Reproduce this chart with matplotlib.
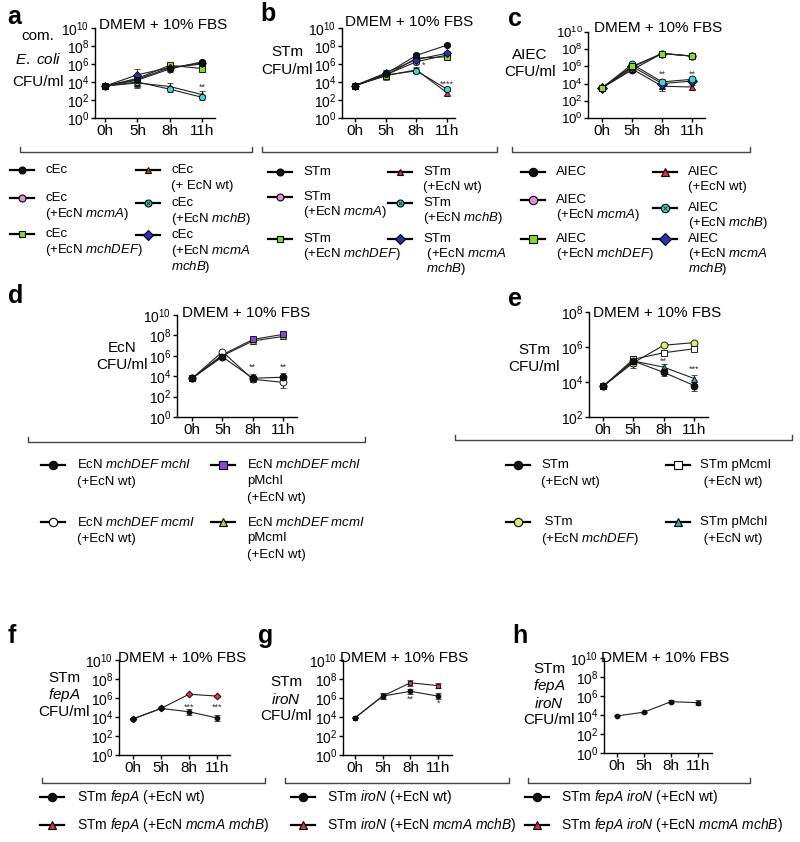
import numpy as np
import matplotlib
matplotlib.use('Agg')
import matplotlib.pyplot as plt
from matplotlib.lines import Line2D
from matplotlib.ticker import NullLocator

plt.rcParams['font.family'] = 'Liberation Sans'
plt.rcParams['mathtext.fontset'] = 'custom'
plt.rcParams['mathtext.rm'] = 'Liberation Sans'
plt.rcParams['mathtext.it'] = 'Liberation Sans:italic'
plt.rcParams['mathtext.bf'] = 'Liberation Sans:bold'
plt.rcParams['mathtext.default'] = 'regular'

W, H = 800, 842
timepoints = ['0h', '5h', '8h', '11h']

# log10 CFU/ml (0h, 5h, 8h, 11h)
a_cEc = [3.55, 4.2, 5.45, 6.25]
a_mcmA = [3.55, 4.3, 5.6, 6.0]
a_mchDEF = [3.55, 4.4, 5.85, 5.5]
a_wt = [3.55, 3.9, 3.5, 2.6]
a_mchB = [3.55, 4.0, 3.2, 2.3]
a_mcmA_mchB = [3.55, 4.8, 5.6, 6.1]
a_err = [[0.05, 0.5, 0.35, 0.15], [0.05, 0.4, 0.3, 0.3], [0.05, 0.3, 0.3, 0.4],
         [0.05, 0.6, 0.4, 0.35], [0.05, 0.5, 0.3, 0.3], [0.05, 0.6, 0.4, 0.2]]

b_STm = [3.6, 4.9, 6.95, 8.1]
b_mcmA = [3.6, 4.8, 6.25, 7.0]
b_mchDEF = [3.6, 4.7, 6.65, 6.8]
b_wt = [3.6, 4.7, 5.35, 2.8]
b_mchB = [3.6, 4.75, 5.25, 3.2]
b_mcmA_mchB = [3.6, 5.0, 6.5, 7.2]
b_err = [[0.05, 0.4, 0.3, 0.1], [0.05, 0.4, 0.3, 0.3], [0.05, 0.3, 0.3, 0.3],
         [0.05, 0.5, 0.3, 0.2], [0.05, 0.3, 0.3, 0.2], [0.05, 0.3, 0.3, 0.3]]

c_AIEC = [3.5, 5.6, 7.5, 7.2]
c_mcmA = [3.5, 5.9, 7.5, 7.2]
c_mchDEF = [3.5, 6.0, 7.5, 7.2]
c_wt = [3.5, 5.7, 3.7, 3.6]
c_mchB = [3.5, 6.25, 4.2, 4.5]
c_mcmA_mchB = [3.5, 6.0, 4.0, 4.3]
c_err = [[0.05, 0.2, 0.1, 0.1], [0.05, 0.2, 0.1, 0.1], [0.05, 0.2, 0.1, 0.15],
         [0.05, 0.2, 0.6, 0.2], [0.05, 0.2, 0.3, 0.2], [0.05, 0.2, 0.3, 0.2]]

d_mchI = [3.8, 5.9, 3.8, 3.9]
d_mcmI = [3.8, 6.4, 3.7, 3.4]
d_mchI_p = [3.8, 6.1, 7.6, 8.1]
d_mcmI_p = [3.8, 6.0, 7.45, 7.9]
d_err = [[0.05, 0.15, 0.4, 0.4], [0.05, 0.15, 0.3, 0.6], [0.05, 0.1, 0.1, 0.1], [0.05, 0.1, 0.1, 0.1]]

e_wt = [3.75, 5.2, 4.55, 3.8]
e_mchDEF = [3.75, 5.1, 6.1, 6.25]
e_pMcmI = [3.75, 5.3, 5.67, 5.9]
e_pMchI = [3.75, 5.2, 4.85, 4.2]
e_err = [[0.05, 0.3, 0.2, 0.3], [0.05, 0.3, 0.05, 0.05], [0.05, 0.1, 0.05, 0.05], [0.05, 0.1, 0.2, 0.2]]

f_wt = [3.8, 4.9, 4.55, 3.9]
f_mcmA_mchB = [3.8, 4.9, 6.4, 6.2]
f_err = [[0.05, 0.1, 0.3, 0.35], [0.05, 0.1, 0.05, 0.05]]

g_wt = [3.9, 6.2, 6.7, 6.2]
g_mcmA_mchB = [3.9, 6.2, 7.6, 7.3]
g_err = [[0.05, 0.3, 0.25, 0.35], [0.05, 0.3, 0.3, 0.25]]

h_wt = [3.9, 4.3, 5.4, 5.3]
h_err = [[0.05, 0.05, 0.15, 0.25]]

# significance marks: (timepoint index, log10 height, label)
a_stars = [(2, 4.9, '*'), (3, 3.4, '**')]
b_stars = [(2.25, 5.9, '*'), (3, 3.8, '****')]
c_stars = [(2, 5.1, '**'), (3, 5.1, '**')]
d_stars = [(2, 4.9, '**'), (3, 4.9, '**')]
e_stars = [(2, 5.2, '**'), (3, 4.75, '***')]
f_stars = [(2, 5.0, '***'), (3, 5.0, '***')]
g_stars = [(2, 5.9, '**'), (3, 5.45, '*')]

BLACK, PINK, LIME, RED = '#111111', '#e48ce0', '#84dc28', '#e0303c'
CYAN, BLUE, PURPLE, OLIVE = '#3cd6da', '#2434b0', '#8a46e0', '#a8d62c'
YELLOW, TEAL, WHITE = '#d8ef74', '#2aa6c8', '#ffffff'

fig = plt.figure(figsize=(W / 100, H / 100), dpi=100)


def px_axes(left, top, right, bottom):
    return fig.add_axes([left / W, 1 - bottom / H, (right - left) / W, (bottom - top) / H])


def ftext(x, y, s, **kw):
    fig.text(x / W, 1 - y / H, s, **kw)


def lines_text(x, y, lines, dy, ha='left', size=9.5):
    for i, s in enumerate(lines):
        ftext(x, y + i * dy, s, ha=ha, va='center', fontsize=size)


def bracket(x0, x1, y):
    fig.add_artist(Line2D(np.array([x0, x0, x1, x1]) / W, 1 - np.array([y - 5, y, y, y - 5]) / H,
                          color='#444444', lw=1))


def legend_entry(mx, my, color, marker, ms, tx, ty, lines, dy=16, size=9.5, cross=False):
    fig.add_artist(Line2D([(mx - 12) / W, (mx + 12) / W], [1 - my / H] * 2, color='k', lw=1.6))
    fig.add_artist(Line2D([mx / W], [1 - my / H], marker=marker, ms=ms, mfc=color, mec='k',
                          mew=0.8, ls='none'))
    if cross:
        fig.add_artist(Line2D([mx / W], [1 - my / H], marker='x', ms=ms * 0.55, color='#333333',
                              mew=0.7, ls='none'))
    lines_text(tx, ty, lines, dy, size=size)


def draw_panel(ax, series, ylo, yhi, xlim, ms=5, stars=(), ysize=10):
    x = np.arange(len(timepoints))
    for vals, errs, color, marker in series:
        v = np.array(vals)
        e = np.array(errs)
        y = 10 ** v
        yerr = [y - 10 ** (v - e), 10 ** (v + e) - y]
        ax.errorbar(x, y, yerr=yerr, color='#222222', lw=0.8, marker=marker, ms=ms, mfc=color,
                    mec='k', mew=0.6, ecolor='#333333', elinewidth=0.8, capsize=2, capthick=0.8)
        if color == CYAN:
            ax.plot(x, y, 'x', ms=ms * 0.55, color='#333333', mew=0.6)
    for xi, lv, s in stars:
        ax.text(xi, 10 ** lv, s, ha='center', va='center', fontsize=6.5, color='#333333')
    ax.set_yscale('log')
    ax.set_ylim(10 ** ylo, 10 ** yhi)
    ax.set_xlim(*xlim)
    ks = list(range(ylo, yhi + 1, 2))
    ax.set_yticks([10.0 ** k for k in ks])
    ax.set_yticklabels([f'$10^{{{k}}}$' for k in ks])
    ax.yaxis.set_minor_locator(NullLocator())
    ax.set_xticks(x)
    ax.set_xticklabels(timepoints)
    for sp in ['top', 'right']:
        ax.spines[sp].set_visible(False)
    for sp in ['left', 'bottom']:
        ax.spines[sp].set_linewidth(1.0)
    ax.tick_params(axis='x', labelsize=11, length=3, width=1, pad=1.5)
    ax.tick_params(axis='y', labelsize=ysize, length=3, width=1, pad=1)
    ax.patch.set_alpha(0)


six_style = [(BLACK, 'o'), (PINK, 'o'), (LIME, 's'), (RED, '^'), (CYAN, 'o'), (BLUE, 'D')]

# ---- row 1: a, b, c
ax = px_axes(95, 28, 215, 118)
data = [a_cEc, a_mcmA, a_mchDEF, a_wt, a_mchB, a_mcmA_mchB]
order = [3, 4, 1, 2, 5, 0]
draw_panel(ax, [(data[i], a_err[i]) + six_style[i] for i in order], 0, 10, (-0.31, 3.4), ms=4.5,
           stars=a_stars)
ax = px_axes(342, 28, 455, 118)
data = [b_STm, b_mcmA, b_mchDEF, b_wt, b_mchB, b_mcmA_mchB]
draw_panel(ax, [(data[i], b_err[i]) + six_style[i] for i in order], 0, 10, (-0.42, 3.26), ms=4.5,
           stars=b_stars)
ax = px_axes(588, 32, 705, 118)
data = [c_AIEC, c_mcmA, c_mchDEF, c_wt, c_mchB, c_mcmA_mchB]
draw_panel(ax, [(data[i], c_err[i]) + six_style[i] for i in [0, 1, 3, 5, 4, 2]], 0, 10,
           (-0.47, 3.43), ms=5, stars=c_stars, ysize=9.5)

# ---- row 2: d, e
ax = px_axes(177, 315, 297, 417)
draw_panel(ax, [(d_mcmI_p, d_err[3], OLIVE, '^'), (d_mchI_p, d_err[2], PURPLE, 's'),
                (d_mcmI, d_err[1], WHITE, 'o'), (d_mchI, d_err[0], BLACK, 'o')],
           0, 10, (-0.5, 3.46), ms=5, stars=d_stars)
ax = px_axes(589, 312, 708, 417)
draw_panel(ax, [(e_mchDEF, e_err[1], YELLOW, 'o'), (e_pMcmI, e_err[2], WHITE, 's'),
                (e_pMchI, e_err[3], TEAL, '^'), (e_wt, e_err[0], BLACK, 'o')],
           2, 8, (-0.46, 3.46), ms=5, stars=e_stars)

# ---- row 3: f, g, h
ax = px_axes(119, 660, 230, 755)
draw_panel(ax, [(f_mcmA_mchB, f_err[1], RED, 'D'), (f_wt, f_err[0], BLACK, 'o')],
           0, 10, (-0.5, 3.46), ms=3.5, stars=f_stars)
ax = px_axes(343, 660, 452, 755)
draw_panel(ax, [(g_mcmA_mchB, g_err[1], RED, 's'), (g_wt, g_err[0], BLACK, 'o')],
           0, 10, (-0.43, 3.5), ms=3.5, stars=g_stars)
ax = px_axes(604, 658, 712, 753)
draw_panel(ax, [(h_wt, h_err[0], BLACK, 'o')], 0, 10, (-0.48, 3.52), ms=3.5)

# ---- titles, panel letters, y labels
for x, y in [(163, 25), (409, 22), (658, 28), (246, 313), (657, 313), (182, 658), (404, 658),
             (665, 658)]:
    ftext(x, y, 'DMEM + 10% FBS', ha='center', va='center', fontsize=11)
for s, x, y in [('a', 7, 17), ('b', 260, 14), ('c', 508, 19), ('d', 8, 296), ('e', 508, 299),
                ('f', 8, 636), ('g', 258, 636), ('h', 512, 636)]:
    ftext(x, y, s, ha='left', va='center', fontsize=18, fontweight='bold')

lines_text(38, 36, ['com.', r'$\mathit{E.\ coli}$', 'CFU/ml'], 23, ha='center', size=11)
lines_text(287, 52, ['STm', 'CFU/ml'], 18, ha='center', size=11)
lines_text(530, 55, ['AIEC', 'CFU/ml'], 17, ha='center', size=11)
lines_text(122, 348, ['EcN', 'CFU/ml'], 17, ha='center', size=11)
lines_text(534, 350, ['STm', 'CFU/ml'], 17, ha='center', size=11)
lines_text(64, 678, ['STm', r'$\mathit{fepA}$', 'CFU/ml'], 17, ha='center', size=11)
lines_text(286, 682, ['STm', r'$\mathit{iroN}$', 'CFU/ml'], 17, ha='center', size=11)
lines_text(549, 669, ['STm', r'$\mathit{fepA}$', r'$\mathit{iroN}$', 'CFU/ml'], 17, ha='center',
           size=11)

# ---- brackets
for x0, x1, y in [(20, 252, 152), (262, 497, 152), (512, 750, 152), (28, 365, 442),
                  (455, 792, 440), (42, 265, 783), (285, 509, 783), (528, 750, 783)]:
    bracket(x0, x1, y)

# ---- legends a, b, c
for name, c1x, c2x, c1y, c2y, dy in [('cEc', 22, 148, [170, 198, 234], [170, 203, 235], 16),
                                     ('STm', 280, 400, [172, 197, 239], [172, 203, 239], 15),
                                     ('AIEC', 533, 665, [172, 200, 239], [172, 208, 239], 15)]:
    ms = 6 if name == 'AIEC' else 5
    wt = '(+ EcN wt)' if name == 'cEc' else '(+EcN wt)'
    last = [name, r' (+EcN $\mathit{mcmA}$', r' $\mathit{mchB}$)'] if name == 'STm' else \
        [name, r'(+EcN $\mathit{mcmA}$', r'$\mathit{mchB}$)']
    col1 = [[name], [name, r'(+EcN $\mathit{mcmA}$)'], [name, r'(+EcN $\mathit{mchDEF}$)']]
    col2 = [[name, wt], [name, r'(+EcN $\mathit{mchB}$)'], last]
    for i in range(3):
        col, mk = six_style[i]
        legend_entry(c1x, c1y[i], col, mk, ms, c1x + 23, c1y[i], col1[i], dy)
        col, mk = six_style[i + 3]
        legend_entry(c2x, c2y[i], col, mk, ms, c2x + 23, c2y[i], col2[i], dy,
                     cross=(col == CYAN))

# ---- legends d, e
legend_entry(53, 465, BLACK, 'o', 6, 77, 465, [r'EcN $\mathit{mchDEF\ mchI}$', '(+EcN wt)'], 17)
legend_entry(53, 522, WHITE, 'o', 6, 77, 522, [r'EcN $\mathit{mchDEF\ mcmI}$', '(+EcN wt)'], 17)
legend_entry(223, 465, PURPLE, 's', 6, 247, 465,
             [r'EcN $\mathit{mchDEF\ mchI}$', 'pMchI', '(+EcN wt)'], 16.5)
legend_entry(223, 522, OLIVE, '^', 6, 247, 522,
             [r'EcN $\mathit{mchDEF\ mcmI}$', 'pMcmI', '(+EcN wt)'], 16.5)
legend_entry(518, 465, BLACK, 'o', 6, 541, 465, ['STm', '(+EcN wt)'], 17)
legend_entry(518, 522, YELLOW, 'o', 6, 541, 522, [' STm', r'(+EcN $\mathit{mchDEF}$)'], 17)
legend_entry(678, 465, WHITE, 's', 6, 700, 465, ['STm pMcmI', ' (+EcN wt)'], 17)
legend_entry(678, 522, TEAL, '^', 6, 700, 522, ['STm pMchI', ' (+EcN wt)'], 17)

# ---- legends f, g, h
for mx, tx, gene in [(52, 77, r'$\mathit{fepA}$'), (303, 327, r'$\mathit{iroN}$'),
                     (537, 561, r'$\mathit{fepA\ iroN}$')]:
    legend_entry(mx, 797, BLACK, 'o', 6, tx, 797, [f'STm {gene} (+EcN wt)'], size=10)
    legend_entry(mx, 825, RED, '^', 6, tx, 825, [f'STm {gene} (+EcN ' + r'$\mathit{mcmA\ mchB}$)'],
                 size=10)

fig.savefig('out.png', dpi=100)
